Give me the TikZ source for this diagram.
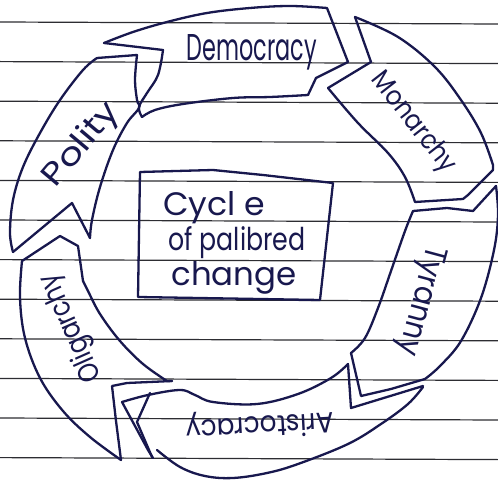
\documentclass[tikz,border=0pt]{standalone}
\usepackage{fontspec}
\setmainfont{Poppins}
\usepackage{graphicx}
\definecolor{inkc}{RGB}{24,24,78}
\definecolor{rulec}{RGB}{45,45,50}
% scale a word to a given width and height (in pt)
\newcommand{\fitw}[3]{\resizebox{#1pt}{#2pt}{#3}}
\begin{document}
\begin{tikzpicture}[x=1pt,y=-1pt,
  ink/.style={draw=inkc,line width=2.3pt,line cap=round,line join=round},
  ruled/.style={draw=rulec,line width=1.2pt},
  word/.style={inner sep=0pt,text=inkc},
  sm/.style={smooth,tension=0.6}]
\useasboundingbox (0,0) rectangle (498,481);
\fill[white] (0,0) rectangle (498,481);

% ruled notebook lines
\foreach \i in {0,...,11}
  \draw[ruled] (0,{22+39.6*\i}) -- (498,{24+39.6*\i});

% --- Democracy band
\draw[ink] plot[sm] coordinates {(104,43) (133,32) (167,22) (207,13) (250,8) (290,6) (327,8)}
  -- (348,62) -- (316,78) -- (308,95);
\draw[ink] plot[sm] coordinates {(308,95) (270,97) (233,98) (183,104) (155,110) (142,117)};
\draw[ink] plot[sm] coordinates {(142,117) (139,107) (147,93) (158,75) (163,50)} -- (104,43);

% --- Monarchy band
\draw[ink] (355,17) -- (371,62) -- (328,88);
\draw[ink] plot[sm] coordinates {(328,88) (358,123) (388,153) (405,177) (415,202)}
  -- (463,199) -- (468,195) -- (493,170);
\draw[ink] plot[sm] coordinates {(355,17) (398,37) (435,67) (461,100) (481,133) (493,165)} -- (493,170);

% --- Tyranny band
\draw[ink] (413,211) -- (447,208) -- (473,211) -- (496,186);
\draw[ink] plot[sm] coordinates {(496,186) (498,215) (494,250) (481,298) (461,341) (440,366) (425,379)};
\draw[ink] plot[sm] coordinates {(413,211) (405,231) (391,271) (378,308) (365,338) (351,353)}
  -- (361,396) -- (391,389) -- (425,379);

% --- Aristocracy band
\draw[ink] (348,364) -- (351,408) -- (423,386);
\draw[ink] plot[sm] coordinates {(348,364) (331,378) (298,394) (257,404) (213,402) (195,395) (180,390) (148,395) (122,402)};
\draw[ink] (122,402) -- (148,450) -- (153,458);
\draw[ink] (150,393) -- (137,422) -- (152,457);
\draw[ink] plot[sm] coordinates {(423,387) (408,404) (381,424) (348,444) (298,464) (267,473) (233,478) (205,476) (180,467) (157,450)};

% --- Oligarchy band
\draw[ink] (22,261) -- (60,236) -- (78,246) -- (83,281);
\draw[ink] plot[sm] coordinates {(83,281) (88,291) (100,314) (120,341) (143,364) (167,381)} -- (172,381);
\draw[ink] (172,381) -- (127,383) -- (112,386) -- (116,421) -- (121,460);
\draw[ink] plot[sm] coordinates {(22,261) (20,298) (25,338) (40,378) (63,411) (90,437) (121,460)};

% --- Polity band
\draw[ink] (97,58) -- (137,55);
\draw[ink] plot[sm] coordinates {(137,55) (135,80) (137,100) (139,108) (127,123) (113,150) (100,187) (92,220) (90,238)};
\draw[ink] (90,238) -- (72,203) -- (13,252);
\draw[ink] plot[sm] coordinates {(97,58) (83,70) (60,100) (40,133) (23,167) (13,200) (10,233) (13,252)};

% --- centre box
\draw[ink] (140,172) -- (213,170) -- (263,175) -- (333,183) -- (320,300) -- (138,297) -- cycle;

% --- labels
\node[word] (dem) at (252,52) {\fitw{130}{26}{Democracy}};
\node[word,rotate=-52] (mon) at (413,123) {\fitw{120}{20}{Monarchy}};
\node[word,rotate=-105] (tyr) at (420,300) {\fitw{112}{22}{Tyranny}};
\node[word,rotate=183] (ari) at (260,424) {\fitw{148}{22}{Aristocracy}};
\node[word,rotate=114] (oli) at (72,328) {\fitw{115}{22}{Oligarchy}};
\node[word,rotate=50] (pol) at (82,145) {\fitw{100}{24}{Polity}};

\node[word] (t1) at (214,208) {\fitw{102}{24}{Cycl e}};
\node[word] (t2) at (237,243) {\fitw{137}{24}{of palibred}};
\node[word] (t3) at (234,278) {\fitw{125}{24}{change}};
\end{tikzpicture}
\end{document}
